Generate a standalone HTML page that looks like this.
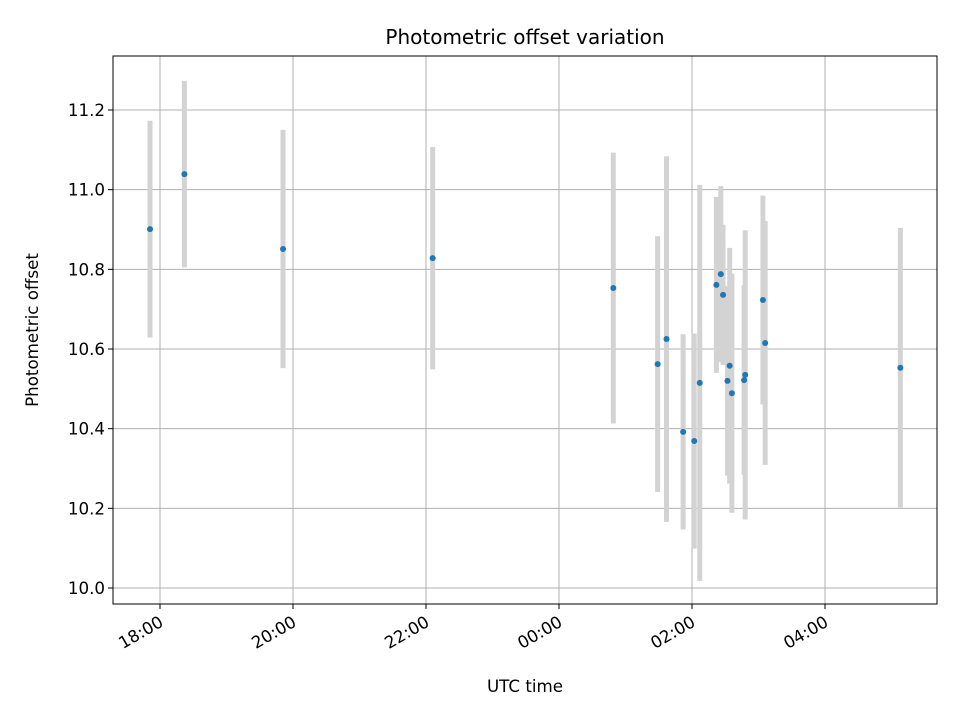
<!DOCTYPE html>
<html><head><meta charset="utf-8"><style>
body{margin:0;background:#fff;font-family:"DejaVu Sans","Liberation Sans",sans-serif}
</style></head><body>
<svg id="chart" width="960" height="720" xmlns="http://www.w3.org/2000/svg" font-family="DejaVu Sans, Liberation Sans, sans-serif">
<rect width="960" height="720" fill="#fff"/>
<g id="grid"></g><g id="bars"></g><g id="pts"></g><g id="axes"></g>
<text x="525" y="44" font-size="20" text-anchor="middle">Photometric offset variation</text>
<text x="525" y="692" font-size="16.7" text-anchor="middle">UTC time</text>
<text transform="translate(38,330) rotate(-90)" font-size="16.7" text-anchor="middle">Photometric offset</text>
</svg>
<script>
const times=["17:51","18:22","19:51","22:06","00:49","01:29","01:37","01:52","02:02","02:07","02:22","02:26","02:28","02:34","02:32","02:36","02:48","02:47","03:04","03:06","05:08"];
const offsets=[10.901,11.039,10.851,10.828,10.753,10.562,10.625,10.392,10.369,10.515,10.761,10.788,10.736,10.558,10.520,10.489,10.535,10.522,10.723,10.615,10.553];
const errors=[0.272,0.234,0.299,0.279,0.340,0.321,0.459,0.245,0.27,0.497,0.221,0.221,0.176,0.296,0.238,0.30,0.363,0.238,0.262,0.306,0.351];
const yTicks=[10.0,10.2,10.4,10.6,10.8,11.0,11.2];
const xTickLabels=["18:00","20:00","22:00","00:00","02:00","04:00"];
const NS="http://www.w3.org/2000/svg";
const L=113,R=937,T=56,B=604;
function hrs(s){let [h,m]=s.split(":").map(Number);let v=h+m/60-18;if(v<-6)v+=24;return v;}
function xs(h){return 160+h*66.5;}
function ys(v){return 588-(v-10)*398.33;}
function mk(tag,attrs,parent){const e=document.createElementNS(NS,tag);for(const k in attrs)e.setAttribute(k,attrs[k]);document.getElementById(parent).appendChild(e);return e;}
yTicks.forEach(t=>{const y=ys(t);
 const g=mk("line",{x1:L,x2:R,y1:y,y2:y,stroke:"#b0b0b0","stroke-width":1},"grid");
 
 
 mk("line",{x1:L-5,x2:L,y1:y,y2:y,stroke:"#000"},"axes");
 const tx=mk("text",{x:L-8,y:y+6,"font-size":16.7,"text-anchor":"end"},"axes");tx.textContent=t.toFixed(1);
 
 
});
xTickLabels.forEach(s=>{const x=xs(hrs(s));
 const g=mk("line",{x1:x,x2:x,y1:T,y2:B,stroke:"#b0b0b0","stroke-width":1},"grid");
 
 
 mk("line",{x1:x,x2:x,y1:B,y2:B+5,stroke:"#000"},"axes");
 const tx=mk("text",{transform:`translate(${x-2},${B+10}) rotate(-30)`,"font-size":16.7,"text-anchor":"end",y:13},"axes");tx.textContent=s;
 
 
});
const frame=mk("rect",{x:L,y:T,width:R-L,height:B-T,fill:"none",stroke:"#000","stroke-width":1},"axes");


times.forEach((s,i)=>{const x=xs(hrs(s));
 const b=mk("line",{x1:x,x2:x,y1:ys(offsets[i]-errors[i]),y2:ys(offsets[i]+errors[i]),stroke:"#d3d3d3","stroke-width":5},"bars");
 
 
 const p=mk("circle",{cx:x,cy:ys(offsets[i]),r:3,fill:"#1f77b4"},"pts");
 
 
});
</script>
</body></html>
